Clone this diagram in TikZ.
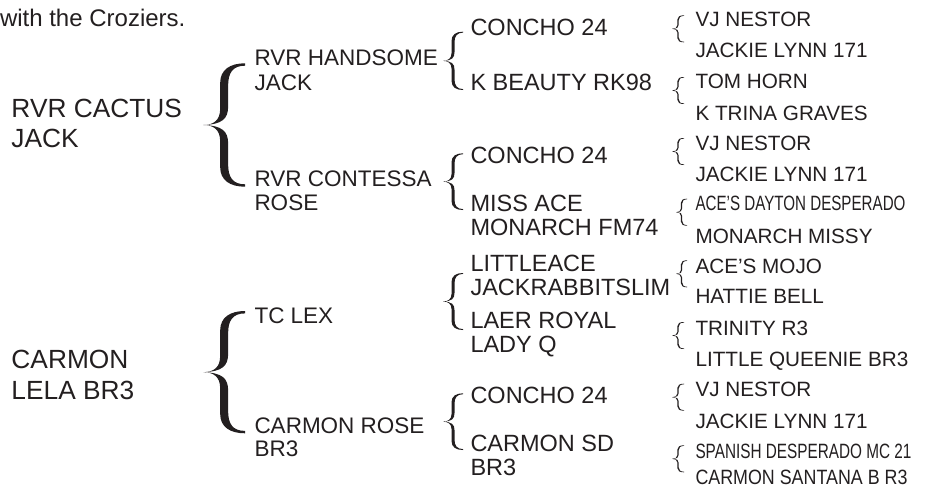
\documentclass[tikz,border=0pt]{standalone}
\usepackage{fontspec}
\setmainfont{Liberation Sans}
\usepackage{graphicx}
\definecolor{ink}{HTML}{231F20}
\newcommand{\curlybr}[5]{%
\pgfmathsetmacro{\brL}{#1}\pgfmathsetmacro{\brR}{#2}%
\pgfmathsetmacro{\brT}{#3}\pgfmathsetmacro{\brB}{#4}%
\pgfmathsetmacro{\brW}{#2-#1}\pgfmathsetmacro{\brH}{#4-#3}%
\pgfmathsetmacro{\brM}{(#3+#4)/2}%
\pgfmathsetmacro{\brO}{#1+0.5*(#2-#1)-#5/2}%
\pgfmathsetmacro{\brI}{#1+0.5*(#2-#1)+#5/2}%
\pgfmathsetmacro{\brE}{max(0.6,0.3*#5)}%
\fill[bracefill] (\brR,\brT) .. controls ({\brR-0.35*\brW},\brT) and (\brO,{\brT+0.05*\brH}) .. (\brO,{\brT+0.16*\brH})
 -- (\brO,{\brM-0.13*\brH}) .. controls (\brO,{\brM-0.04*\brH}) and ({\brL+0.25*\brW},\brM) .. (\brL,\brM)
 .. controls ({\brL+0.25*\brW},\brM) and (\brO,{\brM+0.04*\brH}) .. (\brO,{\brM+0.13*\brH})
 -- (\brO,{\brB-0.16*\brH}) .. controls (\brO,{\brB-0.05*\brH}) and ({\brR-0.35*\brW},\brB) .. (\brR,\brB)
 -- (\brR,{\brB-\brE}) .. controls ({\brR-0.3*\brW},{\brB-\brE}) and (\brI,{\brB-0.08*\brH}) .. (\brI,{\brB-0.18*\brH})
 -- (\brI,{\brM+0.15*\brH}) .. controls (\brI,{\brM+0.05*\brH}) and ({\brL+0.45*\brW},{\brM+0.005*\brH}) .. (\brL,\brM)
 .. controls ({\brL+0.45*\brW},{\brM-0.005*\brH}) and (\brI,{\brM-0.05*\brH}) .. (\brI,{\brM-0.15*\brH})
 -- (\brI,{\brT+0.18*\brH}) .. controls (\brI,{\brT+0.08*\brH}) and ({\brR-0.3*\brW},{\brT+\brE}) .. (\brR,{\brT+\brE}) -- cycle;
}
\begin{document}
\begin{tikzpicture}[x=1pt,y=-1pt,
  txt/.style={anchor=base west,inner sep=0pt,outer sep=0pt,text=ink},
  lvA/.style={txt,font=\fontsize{26.3}{30}\selectfont},
  lvB/.style={txt,font=\fontsize{22.5}{24}\selectfont},
  lvC/.style={txt,font=\fontsize{23.5}{24}\selectfont},
  lvD/.style={txt,font=\fontsize{20.7}{24}\selectfont},
  note/.style={txt,font=\fontsize{24}{28}\selectfont},
  bracefill/.style={fill=ink,draw=none}]
\useasboundingbox (0,0) rectangle (926,487);
\fill[white] (0,0) rectangle (926,487);

% top note
\node[note] (top) at (0,26.7) {with the Croziers.};

% level 0
\node[lvA] (a1) at (11.5,117.3) {RVR CACTUS};
\node[lvA] (a2) at (11.5,147.3) {JACK};
\node[lvA] (b1) at (11.5,368.3) {CARMON};
\node[lvA] (b2) at (11.5,399) {LELA BR3};

% big braces
\curlybr{203.3}{245}{63.3}{186.7}{8}
\curlybr{203.3}{245}{311}{433.3}{8}

% level 1
\node[lvB] (h1) at (254.5,65.7) {RVR HANDSOME};
\node[lvB] (h2) at (254.5,90) {JACK};
\node[lvB] (c1) at (254.5,186.7) {RVR CONTESSA};
\node[lvB] (c2) at (254.5,210) {ROSE};
\node[lvB] (t1) at (254.5,323.5) {TC LEX};
\node[lvB] (r1) at (254.5,433) {CARMON ROSE};
\node[lvB] (r2) at (254.5,456.7) {BR3};

% level-1 braces
\curlybr{443}{463}{31.7}{90}{3}
\curlybr{443}{463}{153.3}{210}{3}
\curlybr{443}{463}{273}{330}{3}
\curlybr{443}{463}{393.3}{450}{3}

% level 2
\node[lvC] (g1) at (470.5,36) {CONCHO 24};
\node[lvC] (g2) at (470.5,90.7) {K BEAUTY RK98};
\node[lvC] (g3) at (470.5,163.3) {CONCHO 24};
\node[lvC] (g4a) at (470.5,211.7) {MISS ACE};
\node[lvC] (g4b) at (470.5,235) {MONARCH FM74};
\node[lvC] (g5a) at (470.5,271.7) {LITTLEACE};
\node[lvC] (g5b) at (470.5,295) {JACKRABBITSLIM};
\node[lvC] (g6a) at (470.5,328.7) {LAER ROYAL};
\node[lvC] (g6b) at (470.5,352) {LADY Q};
\node[lvC] (g7) at (470.5,403.3) {CONCHO 24};
\node[lvC] (g8a) at (470.5,451.7) {CARMON SD};
\node[lvC] (g8b) at (470.5,475) {BR3};

% level-2 braces
\curlybr{672}{684}{15.3}{42.3}{1.4}
\curlybr{672}{684}{77}{104}{1.4}
\curlybr{672}{684}{138}{165}{1.4}
\curlybr{676}{687}{198.7}{225.7}{1.4}
\curlybr{676}{687}{260.3}{287.3}{1.4}
\curlybr{672}{684}{322}{349}{1.4}
\curlybr{672}{684}{383.7}{410.7}{1.4}
\curlybr{672}{684}{445.3}{472.3}{1.4}

% level 3
\node[lvD] (f1) at (695.5,26.7) {VJ NESTOR};
\node[lvD] (f2) at (695.5,57.7) {JACKIE LYNN 171};
\node[lvD] (f3) at (695.5,88.3) {TOM HORN};
\node[lvD] (f4) at (695.5,120) {K TRINA GRAVES};
\node[lvD] (f5) at (695.5,150) {VJ NESTOR};
\node[lvD] (f6) at (695.5,181.7) {JACKIE LYNN 171};
\node[lvD] (f7) at (695.5,210.7) {\resizebox{210pt}{\height}{ACE’S DAYTON DESPERADO}};
\node[lvD] (f8) at (695.5,243.3) {MONARCH MISSY};
\node[lvD] (f9) at (695.5,273.3) {ACE’S MOJO};
\node[lvD] (f10) at (695.5,303.3) {HATTIE BELL};
\node[lvD] (f11) at (695.5,335) {TRINITY R3};
\node[lvD] (f12) at (695.5,366) {LITTLE QUEENIE BR3};
\node[lvD] (f13) at (695.5,396.7) {VJ NESTOR};
\node[lvD] (f14) at (695.5,428.3) {JACKIE LYNN 171};
\node[lvD] (f15) at (695.5,458.3) {\resizebox{216pt}{\height}{SPANISH DESPERADO MC 21}};
\node[lvD] (f16) at (695.5,484.3) {\resizebox{212pt}{\height}{CARMON SANTANA B R3}};
\end{tikzpicture}
\end{document}
